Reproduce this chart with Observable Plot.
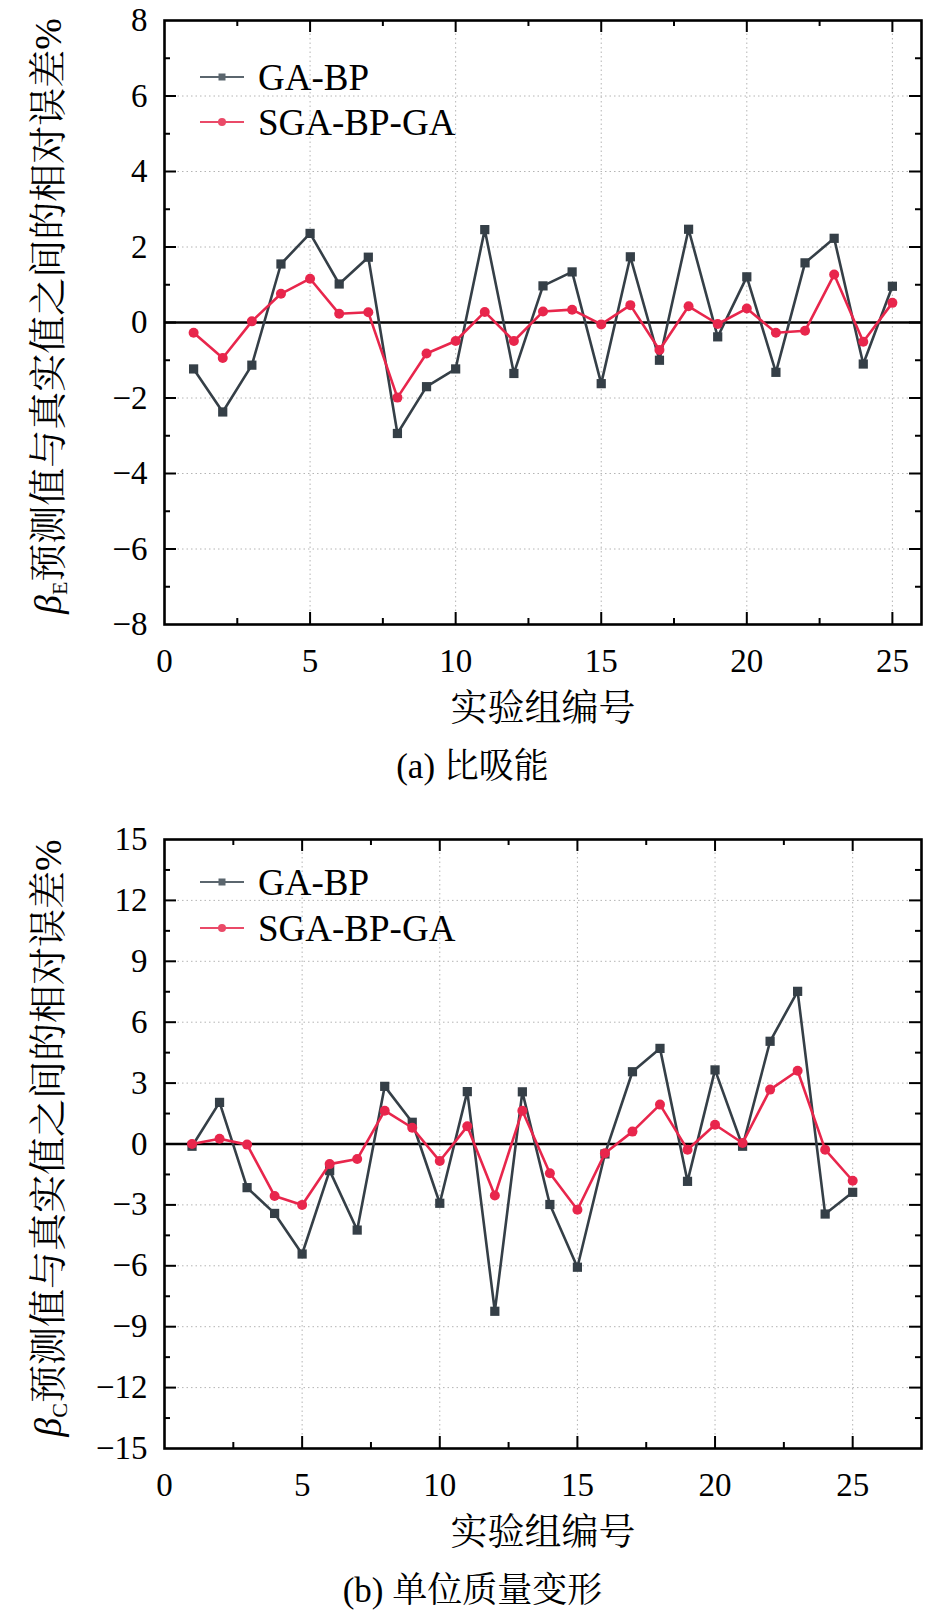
<!DOCTYPE html>
<html><head><meta charset="utf-8">
<script src="https://cdn.jsdelivr.net/npm/d3@7"></script>
<script src="https://cdn.jsdelivr.net/npm/@observablehq/plot@0.6"></script>
<style>
html,body{margin:0;padding:0;background:#fff;overflow:hidden;width:945px;}
.panel{position:relative;width:945px;}
.cap{width:945px;text-align:center;font-family:"Liberation Serif","Noto Serif CJK SC","Noto Sans CJK SC",serif;font-size:35px;height:64px;line-height:64px;color:#000;}
.ylab{position:absolute;white-space:nowrap;transform:translate(-50%,-50%) rotate(-90deg);font-family:"Liberation Serif","Noto Serif CJK SC","Noto Sans CJK SC",serif;font-size:38px;color:#000;line-height:1;}
.ylab i{font-style:italic;}
.ylab sub{font-size:22px;vertical-align:-6px;}
.leg{position:absolute;left:200px;display:flex;align-items:center;transform:translateY(-50%);font-family:"Liberation Serif",serif;font-size:37px;color:#000;line-height:1;}
.leg svg{margin-right:14px;}
</style></head><body>
<div id="a" class="panel"></div><div class="cap">(a) 比吸能</div>
<div id="b" class="panel"></div><div class="cap">(b) 单位质量变形</div>
<script>
const groups = [1,2,3,4,5,6,7,8,9,10,11,12,13,14,15,16,17,18,19,20,21,22,23,24,25];
const seriesNames = ["GA-BP", "SGA-BP-GA"];
// (a) 比吸能
const gaA  = [-1.23,-2.37,-1.13,1.55,2.36,1.02,1.73,-2.94,-1.70,-1.23,2.46,-1.35,0.97,1.34,-1.62,1.74,-1.00,2.47,-0.38,1.21,-1.32,1.58,2.23,-1.10,0.96];
const sgaA = [-0.27,-0.94,0.03,0.76,1.16,0.23,0.27,-1.99,-0.82,-0.49,0.28,-0.49,0.29,0.34,-0.05,0.46,-0.73,0.43,-0.04,0.37,-0.27,-0.22,1.27,-0.51,0.52];
// (b) 单位质量变形
const gaB  = [-0.11,2.05,-2.15,-3.42,-5.42,-1.31,-4.24,2.84,1.07,-2.92,2.58,-8.24,2.57,-2.98,-6.07,-0.49,3.56,4.71,-1.84,3.65,-0.11,5.06,7.52,-3.45,-2.38];
const sgaB = [0.00,0.26,-0.03,-2.56,-3.00,-0.99,-0.74,1.64,0.80,-0.84,0.87,-2.54,1.64,-1.44,-3.24,-0.46,0.61,1.94,-0.28,0.95,0.05,2.68,3.61,-0.28,-1.81];

const xMajor = [0,5,10,15,20,25];
const xMinor = [2.5,7.5,12.5,17.5,22.5];
const yMajorA = [-8,-6,-4,-2,0,2,4,6,8];
const yMinorA = [-7,-5,-3,-1,1,3,5,7];
const yMajorB = [-15,-12,-9,-6,-3,0,3,6,9,12,15];
const yMinorB = [-13.5,-10.5,-7.5,-4.5,-1.5,1.5,4.5,7.5,10.5,13.5];

const xLabel = "实验组编号";
const yLabelA = '<i>β</i><sub>E</sub>预测值与真实值之间的相对误差%';
const yLabelB = '<i>β</i><sub>C</sub>预测值与真实值之间的相对误差%';

const C_GA = "#353f47", C_SGA = "#e8264c";
const LEG_GA = "#5b666e", LEG_SGA = "#ea4a68";
const SERIF = "Liberation Serif, serif";
const CJK = "Liberation Serif, Noto Serif CJK SC, Noto Sans CJK SC, serif";

function makePanel(el, o) {
  const gaRows = groups.map((g,i)=>({g, v:o.ga[i]}));
  const sgaRows = groups.map((g,i)=>({g, v:o.sga[i]}));
  const yMin = o.yDomain[0], yMax = o.yDomain[1];
  const W = 945, mL = 164, mR = 24, plotW = W - mL - mR, H = o.plotH;
  const grid = {stroke:"#b4b4b4", strokeOpacity:1, strokeWidth:1, strokeDasharray:"1.5,3"};
  const tkS = {stroke:"#000", strokeWidth:2};
  const inX = (arr) => arr.filter(d=>d>o.xDomain[0] && d<o.xDomain[1]);
  const inY = (arr) => arr.filter(d=>d>yMin && d<yMax);
  const plot = Plot.plot({
    width: W, height: o.marginTop + H + 111,
    marginTop: o.marginTop, marginLeft: mL, marginRight: mR, marginBottom: 111,
    x: {domain: o.xDomain},
    y: {domain: o.yDomain},
    style: {fontFamily: SERIF, fontSize: "33px", color: "#000", background: "#fff", overflow: "visible"},
    marks: [
      Plot.gridX(inX(xMajor), grid),
      Plot.gridY(inY(o.yMajor).filter(d=>d!==0), grid),
      Plot.ruleY([0], {stroke:"#000", strokeWidth:2.6}),
      Plot.line(gaRows, {x:"g", y:"v", stroke:C_GA, strokeWidth:2.6}),
      Plot.dot(gaRows, {x:"g", y:"v", symbol:"square", r:5.2, fill:C_GA, stroke:"none"}),
      Plot.line(sgaRows, {x:"g", y:"v", stroke:C_SGA, strokeWidth:2.6}),
      Plot.dot(sgaRows, {x:"g", y:"v", symbol:"circle", r:5, fill:C_SGA, stroke:"none"}),
      // inward ticks on all four sides
      Plot.ruleX(inX(xMajor), {x:d=>d, insetTop: H-12, ...tkS}),
      Plot.ruleX(inX(xMajor), {x:d=>d, insetBottom: H-12, ...tkS}),
      Plot.ruleX(inX(xMinor), {x:d=>d, insetTop: H-6, ...tkS}),
      Plot.ruleX(inX(xMinor), {x:d=>d, insetBottom: H-6, ...tkS}),
      Plot.ruleY(inY(o.yMajor), {y:d=>d, insetRight: plotW-12, ...tkS}),
      Plot.ruleY(inY(o.yMajor), {y:d=>d, insetLeft: plotW-12, ...tkS}),
      Plot.ruleY(inY(o.yMinor), {y:d=>d, insetRight: plotW-6, ...tkS}),
      Plot.ruleY(inY(o.yMinor), {y:d=>d, insetLeft: plotW-6, ...tkS}),
      Plot.frame({stroke:"#000", strokeWidth:2.6}),
      Plot.axisX(xMajor, {anchor:"bottom", tickSize:0, tickPadding:24, label:null, fontSize:33}),
      Plot.axisY(o.yMajor, {anchor:"left", tickSize:0, tickPadding:17, label:null, fontSize:33}),
      Plot.text([xLabel], {text:d=>d, frameAnchor:"bottom", dy:96, fontSize:37, fontFamily:CJK, fill:"#000"})
    ]
  });
  el.appendChild(plot);
  const yl = document.createElement("div");
  yl.className = "ylab";
  yl.innerHTML = o.yLabel;
  yl.style.left = "50px";
  yl.style.top = (o.marginTop + H/2 - 6) + "px";
  el.appendChild(yl);
  const legs = [
    {name: seriesNames[0], color: LEG_GA, sym: '<rect x="18.5" y="7" width="7" height="7"/>', top: o.legTop[0]},
    {name: seriesNames[1], color: LEG_SGA, sym: '<circle cx="22" cy="10.5" r="4"/>', top: o.legTop[1]}
  ];
  for (const L of legs) {
    const d = document.createElement("div");
    d.className = "leg";
    d.style.top = L.top + "px";
    d.innerHTML = `<svg width="44" height="21" viewBox="0 0 44 21"><line x1="0" y1="10.5" x2="44" y2="10.5" stroke="${L.color}" stroke-width="2"/><g fill="${L.color}">${L.sym}</g></svg><span>${L.name}</span>`;
    el.appendChild(d);
  }
}

makePanel(document.getElementById("a"), {
  ga: gaA, sga: sgaA, xDomain: [0,26], yDomain: [-8,8], yMajor: yMajorA, yMinor: yMinorA,
  marginTop: 20, plotH: 604, yLabel: yLabelA, legTop: [77, 122]
});
makePanel(document.getElementById("b"), {
  ga: gaB, sga: sgaB, xDomain: [0,27.5], yDomain: [-15,15], yMajor: yMajorB, yMinor: yMinorB,
  marginTop: 40, plotH: 609, yLabel: yLabelB, legTop: [83, 129]
});
</script>
</body></html>
